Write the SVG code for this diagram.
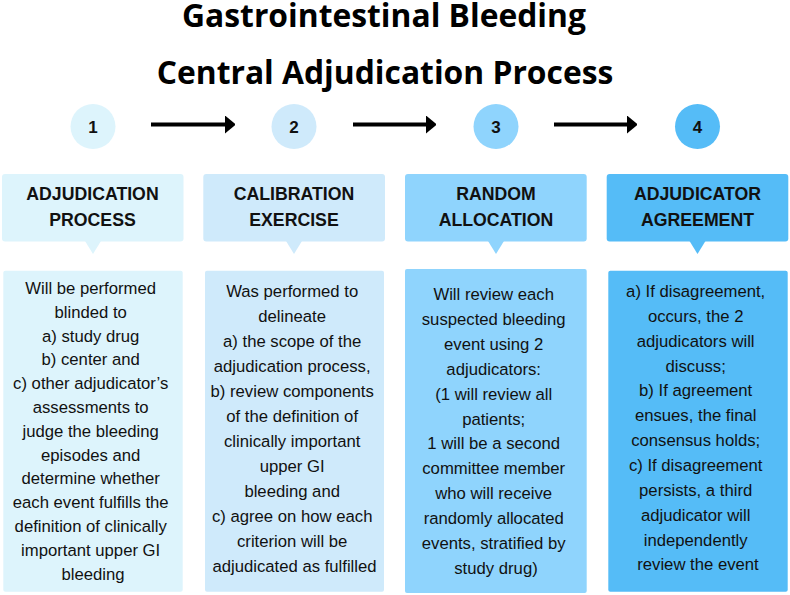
<svg xmlns="http://www.w3.org/2000/svg" width="790" height="595" viewBox="0 0 790 595">
<defs>
<style>
.title{font-family:"Open Sans","Liberation Sans",sans-serif;font-weight:bold;font-size:31.8px;fill:#000;text-anchor:middle}
.num{font-family:"Liberation Sans",Arial,sans-serif;font-weight:bold;font-size:17px;fill:#111;text-anchor:middle}
.hdr{font-family:"Liberation Sans",Arial,sans-serif;font-weight:bold;font-size:17.7px;fill:#111;text-anchor:middle}
.body{font-family:"Liberation Sans",Arial,sans-serif;font-size:16.7px;fill:#111;text-anchor:middle}
.c1{fill:#ddf4fc}.c2{fill:#cfeafb}.c3{fill:#8fd4fd}.c4{fill:#55bcf7}
.arrow{stroke:#000;stroke-width:4;fill:none}
</style>
<marker id="ah" markerWidth="10" markerHeight="18" refX="0" refY="9" orient="auto" markerUnits="userSpaceOnUse">
<path d="M0,0 L11,9 L0,18 Z" fill="#000"/>
</marker>
</defs>
<rect width="790" height="595" fill="#fff"/>
<g id="title">
<text class="title" x="384" y="27">Gastrointestinal Bleeding</text>
<text class="title" x="385" y="83.5">Central Adjudication Process</text>
</g>
<g id="connectors">
<line class="arrow" x1="151" y1="124.5" x2="225" y2="124.5" marker-end="url(#ah)"/>
<line class="arrow" x1="353" y1="124.5" x2="426" y2="124.5" marker-end="url(#ah)"/>
<line class="arrow" x1="554" y1="124.5" x2="627" y2="124.5" marker-end="url(#ah)"/>
</g>
<g id="step1">
<circle class="c1" cx="93" cy="126.5" r="22.5"/>
<text class="num" x="93" y="132.5">1</text>
<rect class="c1" x="2" y="174" width="181.5" height="67.5" rx="3"/>
<path class="c1" d="M85,241 L93,254 L101,241 Z"/>
<text class="hdr" x="92.5" y="200">ADJUDICATION</text>
<text class="hdr" x="92.5" y="226">PROCESS</text>
<rect class="c1" x="3.3" y="270.7" width="179.4" height="321" rx="2"/>
<text class="body">
<tspan x="93" y="294">Will be performed</tspan>
<tspan x="93" dy="23.8">blinded to</tspan>
<tspan x="93" dy="23.8">a) study drug</tspan>
<tspan x="93" dy="23.8">b) center and</tspan>
<tspan x="93" dy="23.8">c) other adjudicator’s</tspan>
<tspan x="93" dy="23.8">assessments to</tspan>
<tspan x="93" dy="23.8">judge the bleeding</tspan>
<tspan x="93" dy="23.8">episodes and</tspan>
<tspan x="93" dy="23.8">determine whether</tspan>
<tspan x="93" dy="23.8">each event fulfills the</tspan>
<tspan x="93" dy="23.8">definition of clinically</tspan>
<tspan x="93" dy="23.8">important upper GI</tspan>
<tspan x="93" dy="23.8">bleeding</tspan>
</text>
</g>
<g id="step2">
<circle class="c2" cx="294" cy="126.5" r="22.5"/>
<text class="num" x="294" y="132.5">2</text>
<rect class="c2" x="203.3" y="174" width="181.7" height="67.5" rx="3"/>
<path class="c2" d="M286,241 L294,254 L302,241 Z"/>
<text class="hdr" x="294" y="200">CALIBRATION</text>
<text class="hdr" x="294" y="226">EXERCISE</text>
<rect class="c2" x="205" y="270.7" width="179" height="321" rx="2"/>
<text class="body">
<tspan x="294.5" y="297">Was performed to</tspan>
<tspan x="294.5" dy="25">delineate</tspan>
<tspan x="294.5" dy="25">a) the scope of the</tspan>
<tspan x="294.5" dy="25">adjudication process,</tspan>
<tspan x="294.5" dy="25">b) review components</tspan>
<tspan x="294.5" dy="25">of the definition of</tspan>
<tspan x="294.5" dy="25">clinically important</tspan>
<tspan x="294.5" dy="25">upper GI</tspan>
<tspan x="294.5" dy="25">bleeding and</tspan>
<tspan x="294.5" dy="25">c) agree on how each</tspan>
<tspan x="294.5" dy="25">criterion will be</tspan>
<tspan x="294.5" dy="25">adjudicated as fulfilled</tspan>
</text>
</g>
<g id="step3">
<circle class="c3" cx="496" cy="126.5" r="22.5"/>
<text class="num" x="496" y="132.5">3</text>
<rect class="c3" x="405" y="174" width="181.7" height="67.5" rx="3"/>
<path class="c3" d="M488,241 L496,254 L504,241 Z"/>
<text class="hdr" x="496" y="200">RANDOM</text>
<text class="hdr" x="496" y="226">ALLOCATION</text>
<rect class="c3" x="405" y="269" width="181.7" height="324" rx="2"/>
<text class="body">
<tspan x="496" y="300">Will review each</tspan>
<tspan x="496" dy="24.9">suspected bleeding</tspan>
<tspan x="496" dy="24.9">event using 2</tspan>
<tspan x="496" dy="24.9">adjudicators:</tspan>
<tspan x="496" dy="24.9">(1 will review all</tspan>
<tspan x="496" dy="24.9">patients;</tspan>
<tspan x="496" dy="24.9"> 1 will be a second</tspan>
<tspan x="496" dy="24.9">committee member</tspan>
<tspan x="496" dy="24.9">who will receive</tspan>
<tspan x="496" dy="24.9">randomly allocated</tspan>
<tspan x="496" dy="24.9">events, stratified by</tspan>
<tspan x="496" dy="24.9">study drug)</tspan>
</text>
</g>
<g id="step4">
<circle class="c4" cx="697.5" cy="126.5" r="22.5"/>
<text class="num" x="697.5" y="132.5">4</text>
<rect class="c4" x="606.7" y="174" width="181.6" height="67.5" rx="3"/>
<path class="c4" d="M689.5,241 L697.5,254 L705.5,241 Z"/>
<text class="hdr" x="697.5" y="200">ADJUDICATOR</text>
<text class="hdr" x="697.5" y="226">AGREEMENT</text>
<rect class="c4" x="608.3" y="270.7" width="179.4" height="321" rx="2"/>
<text class="body">
<tspan x="698" y="297">a) If disagreement,</tspan>
<tspan x="698" dy="24.85">occurs, the 2</tspan>
<tspan x="698" dy="24.85">adjudicators will</tspan>
<tspan x="698" dy="24.85">discuss;</tspan>
<tspan x="698" dy="24.85">b) If agreement</tspan>
<tspan x="698" dy="24.85">ensues, the final</tspan>
<tspan x="698" dy="24.85">consensus holds;</tspan>
<tspan x="698" dy="24.85">c) If disagreement</tspan>
<tspan x="698" dy="24.85">persists, a third</tspan>
<tspan x="698" dy="24.85">adjudicator will</tspan>
<tspan x="698" dy="24.85">independently</tspan>
<tspan x="698" dy="24.85">review the event</tspan>
</text>
</g>
</svg>
